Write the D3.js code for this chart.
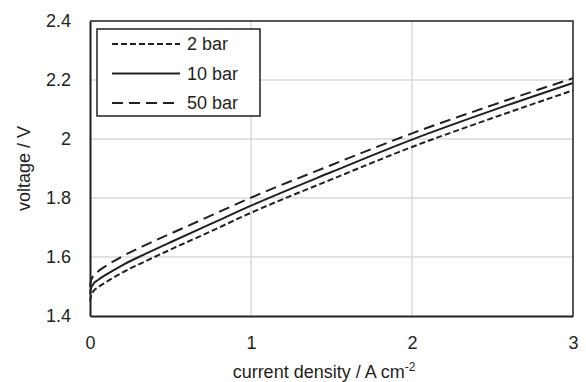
<!DOCTYPE html>
<html>
<head>
<meta charset="utf-8">
<script src="https://cdn.jsdelivr.net/npm/d3@7"></script>
<style>
  body { margin: 0; background: #fff; }
  text { font-family: "Liberation Sans", Arial, sans-serif; fill: #231f20; }
</style>
</head>
<body>
<svg></svg>
<script>
// current density (A cm-2) sample points
let current = [0.001, 0.005, 0.02, 0.05, 0.1, 0.2, 0.35, 0.5, 0.75, 1, 1.5, 2, 2.5, 3];

// voltage (V) per pressure
let v2bar  = [1.45, 1.465, 1.483, 1.497, 1.515, 1.547, 1.587, 1.625, 1.687, 1.75, 1.863, 1.973, 2.071, 2.165];
let v10bar = [1.475, 1.49, 1.508, 1.522, 1.54, 1.572, 1.612, 1.65, 1.712, 1.774, 1.888, 1.998, 2.097, 2.19];
let v50bar = [1.50, 1.517, 1.536, 1.551, 1.57, 1.602, 1.642, 1.679, 1.74, 1.801, 1.912, 2.019, 2.115, 2.206];

let seriesNames = ['2 bar', '10 bar', '50 bar'];
let seriesValues = [v2bar, v10bar, v50bar];
let seriesDash = ['6,3', null, '11,6'];

let xTicks = [0, 1, 2, 3];
let yTicks = [1.4, 1.6, 1.8, 2, 2.2, 2.4];

let config = {
  svg: { width: 586, height: 382 },
  plot: { x: 90, y: 21, width: 483, height: 295 }
};

let ink = '#231f20';

let svg = d3.select('svg')
  .attr('width', config.svg.width)
  .attr('height', config.svg.height);

let plot = svg.append('g')
  .attr('transform', translate(config.plot.x, config.plot.y));

let scale = {};
scale.x = d3.scaleLinear().domain([0, 3]).range([0, config.plot.width]);
scale.y = d3.scaleLinear().domain([1.4, 2.4]).range([config.plot.height, 0]);

// gridlines
plot.append('g').selectAll('line')
  .data(yTicks.slice(1, -1))
  .enter().append('line')
  .attr('x1', 0).attr('x2', config.plot.width)
  .attr('y1', d => scale.y(d)).attr('y2', d => scale.y(d))
  .attr('stroke', '#d9d9d9').attr('stroke-width', 1.5);

plot.append('g').selectAll('line')
  .data(xTicks.slice(1, -1))
  .enter().append('line')
  .attr('y1', 0).attr('y2', config.plot.height)
  .attr('x1', d => scale.x(d)).attr('x2', d => scale.x(d))
  .attr('stroke', '#d9d9d9').attr('stroke-width', 1.5);

// top and right border
plot.append('path')
  .attr('d', 'M0,0H' + config.plot.width + 'V' + config.plot.height)
  .attr('fill', 'none').attr('stroke', ink).attr('stroke-width', 1.5);

// curves
let line = d3.line()
  .x(d => scale.x(d[0]))
  .y(d => scale.y(d[1]))
  .curve(d3.curveMonotoneX);

seriesValues.forEach(function(vals, k) {
  let pts = current.map((c, i) => [c, vals[i]]);
  plot.append('path')
    .datum(pts)
    .attr('d', line)
    .attr('fill', 'none')
    .attr('stroke', ink)
    .attr('stroke-width', 2)
    .attr('stroke-dasharray', seriesDash[k]);
});

// axes
let axis = {};
axis.x = d3.axisBottom(scale.x).tickValues(xTicks).tickFormat(d3.format('d')).tickSize(0).tickPadding(20);
axis.y = d3.axisLeft(scale.y).tickValues(yTicks).tickFormat(d => d === 2 ? '2' : d3.format('.1f')(d)).tickSize(0).tickPadding(19);

let gx = plot.append('g')
  .attr('transform', translate(0, config.plot.height))
  .call(axis.x);
let gy = plot.append('g').call(axis.y);

[gx, gy].forEach(function(g) {
  g.select('.domain').attr('stroke', ink).attr('stroke-width', 2);
  g.selectAll('text').style('font-size', '18px').attr('fill', ink);
});

// axis titles
let xt = svg.append('text')
  .attr('x', 324)
  .attr('y', 378)
  .attr('text-anchor', 'middle')
  .style('font-size', '18px');
xt.append('tspan').text('current density / A cm');
xt.append('tspan').attr('dy', -7).style('font-size', '12px').text('-2');

svg.append('text')
  .attr('transform', translate(30, config.plot.y + config.plot.height / 2) + ' rotate(-90)')
  .attr('text-anchor', 'middle')
  .style('font-size', '18px')
  .text('voltage / V');

// legend
let legend = svg.append('g').attr('transform', translate(97, 29));
legend.append('rect')
  .attr('width', 163).attr('height', 87)
  .attr('fill', '#fff').attr('stroke', ink).attr('stroke-width', 1.5);

let rows = legend.selectAll('g.row')
  .data(seriesNames)
  .enter().append('g')
  .attr('class', 'row')
  .attr('transform', (d, i) => translate(0, 15 + i * 29.5));

rows.append('line')
  .attr('x1', 15).attr('x2', 83)
  .attr('stroke', ink).attr('stroke-width', 2)
  .attr('stroke-dasharray', (d, i) => seriesDash[i]);

rows.append('text')
  .attr('x', 90).attr('dy', '0.35em')
  .style('font-size', '18px')
  .text(d => d);

function translate(x, y) {
  return 'translate(' + x + ',' + y + ')';
}
</script>
</body>
</html>
